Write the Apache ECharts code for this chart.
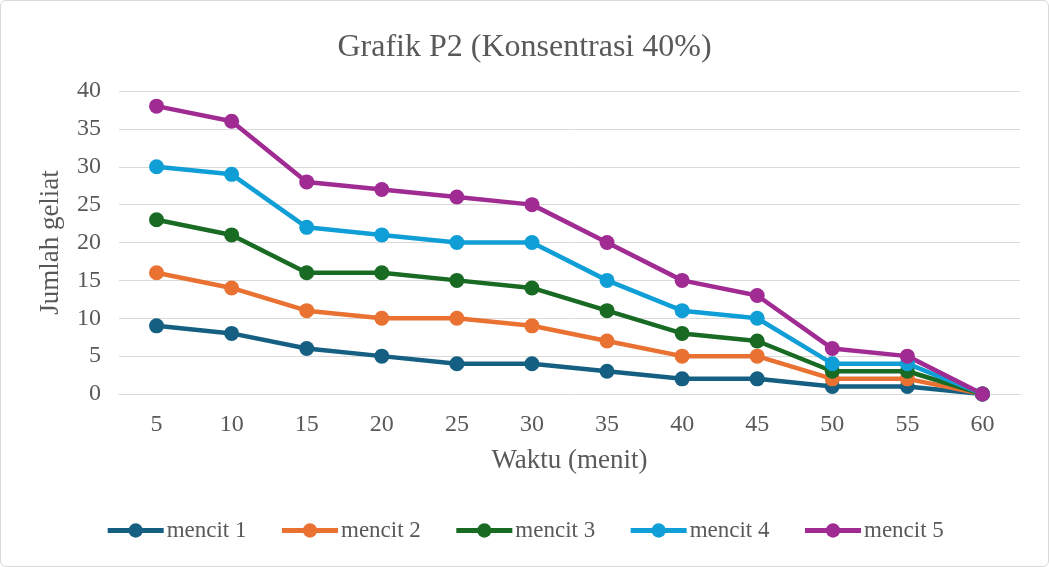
<!DOCTYPE html>
<html>
<head>
<meta charset="utf-8">
<script src="https://cdn.jsdelivr.net/npm/echarts@6/dist/echarts.min.js"></script>
<style>
  html, body { margin: 0; padding: 0; background: #fff; }
  #main { width: 1049px; height: 567px; box-sizing: border-box; border: 1px solid #d9d9d9; border-radius: 6px; }
</style>
</head>
<body>
<div id="main"></div>
<script>
// data
var waktu = ['5', '10', '15', '20', '25', '30', '35', '40', '45', '50', '55', '60'];
var mencit1 = [9, 8, 6, 5, 4, 4, 3, 2, 2, 1, 1, 0];
var mencit2 = [16, 14, 11, 10, 10, 9, 7, 5, 5, 2, 2, 0];
var mencit3 = [23, 21, 16, 16, 15, 14, 11, 8, 7, 3, 3, 0];
var mencit4 = [30, 29, 22, 21, 20, 20, 15, 11, 10, 4, 4, 0];
var mencit5 = [38, 36, 28, 27, 26, 25, 20, 15, 13, 6, 5, 0];

var names = ['mencit 1', 'mencit 2', 'mencit 3', 'mencit 4', 'mencit 5'];
var colors = ['#156082', '#E97132', '#196B24', '#0F9ED5', '#A02B93'];
var values = [mencit1, mencit2, mencit3, mencit4, mencit5];

var font = '"Liberation Serif", "DejaVu Serif", serif';
var myChart = echarts.init(document.getElementById('main'));

var series = names.map(function (n, i) {
  return {
    name: n,
    type: 'line',
    data: values[i],
    symbol: 'circle',
    symbolSize: 15,
    lineStyle: { width: 4.5, color: colors[i] },
    itemStyle: { color: colors[i] }
  };
});

var option = {
  animation: false,
  color: colors,
  textStyle: { fontFamily: font },
  title: {
    text: 'Grafik P2 (Konsentrasi 40%)',
    left: 'center',
    top: 26,
    textStyle: { fontFamily: font, fontSize: 32, fontWeight: 'normal', color: '#595959' }
  },
  legend: {
    bottom: 19,
    left: 'center',
    itemWidth: 56,
    itemHeight: 18,
    itemGap: 33,
    data: names,
    lineStyle: { width: 5 },
    textStyle: { fontFamily: font, fontSize: 23, color: '#595959', padding: [0, 0, 0, -2] }
  },
  grid: { left: 118, right: 28, top: 90, bottom: 172 },
  xAxis: {
    type: 'category',
    data: waktu,
    boundaryGap: true,
    name: 'Waktu (menit)',
    nameLocation: 'middle',
    nameGap: 53,
    nameTextStyle: { fontFamily: font, fontSize: 27, color: '#595959' },
    axisLine: { lineStyle: { color: '#d9d9d9', width: 1 } },
    axisTick: { show: false },
    axisLabel: { fontFamily: font, fontSize: 24, color: '#595959', margin: 19 }
  },
  yAxis: {
    type: 'value',
    min: 0,
    max: 40,
    interval: 5,
    name: 'Jumlah geliat',
    nameLocation: 'middle',
    nameGap: 55,
    nameTextStyle: { fontFamily: font, fontSize: 27, color: '#595959' },
    axisLine: { show: false },
    axisTick: { show: false },
    splitLine: { lineStyle: { color: '#d9d9d9', width: 1 } },
    axisLabel: { fontFamily: font, fontSize: 24, color: '#595959', margin: 18 }
  },
  series: series
};
myChart.setOption(option);
</script>
</body>
</html>
